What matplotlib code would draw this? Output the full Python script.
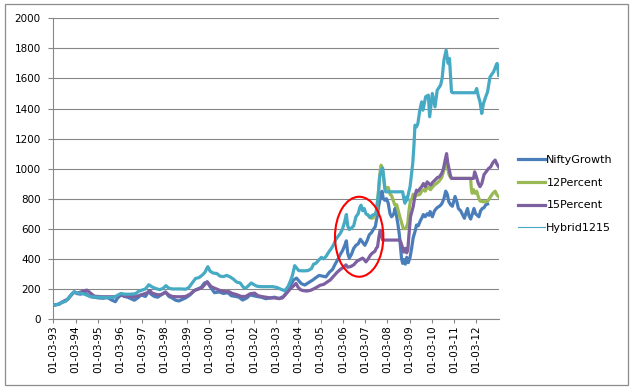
import matplotlib
matplotlib.use("Agg")
import matplotlib.pyplot as plt
from matplotlib.lines import Line2D
from matplotlib.patches import Ellipse, Rectangle

# ---------------- data (decimal years, index values) ----------------
hyb_t = [1993.16, 1993.30, 1993.45, 1993.55, 1993.70, 1993.85, 1994.00, 1994.10, 1994.20, 1994.35,
         1994.50, 1994.65, 1994.80, 1995.00, 1995.30, 1995.60, 1995.90, 1996.05, 1996.20, 1996.35,
         1996.60, 1996.85, 1997.00, 1997.15, 1997.30, 1997.45, 1997.58, 1997.75, 1997.95, 1998.10,
         1998.22, 1998.35, 1998.50, 1998.70, 1998.90, 1999.10, 1999.25, 1999.40, 1999.55, 1999.70,
         1999.85, 1999.97, 2000.05, 2000.10, 2000.20, 2000.35, 2000.50, 2000.65, 2000.80, 2000.95,
         2001.10, 2001.25, 2001.40, 2001.55, 2001.70, 2001.80, 2001.95, 2002.05, 2002.15, 2002.30,
         2002.50, 2002.80, 2003.00, 2003.20, 2003.35, 2003.55, 2003.70, 2003.80, 2003.90, 2004.00,
         2004.08, 2004.18, 2004.40, 2004.60, 2004.75, 2004.85, 2004.95, 2005.10, 2005.20, 2005.30,
         2005.40, 2005.55, 2005.65, 2005.75, 2005.85, 2005.95, 2006.05, 2006.15, 2006.25, 2006.32,
         2006.38, 2006.45, 2006.55, 2006.65, 2006.75, 2006.85, 2006.92, 2006.98, 2007.05, 2007.12,
         2007.20, 2007.30, 2007.38, 2007.48, 2007.58, 2007.65, 2007.70, 2007.75, 2007.82, 2007.90,
         2007.95, 2008.00, 2008.04, 2008.08, 2008.85, 2008.90, 2008.95, 2009.00, 2009.05, 2009.10,
         2009.18, 2009.30, 2009.36, 2009.40, 2009.47, 2009.53, 2009.62, 2009.70, 2009.76, 2009.88,
         2010.00, 2010.06, 2010.18, 2010.30, 2010.40, 2010.55, 2010.62, 2010.70, 2010.80, 2010.89,
         2010.95, 2011.04, 2011.09, 2012.10, 2012.17, 2012.25, 2012.32, 2012.40, 2012.47, 2012.55,
         2012.66, 2012.77, 2012.93, 2013.05, 2013.09, 2013.16]
hyb_v = [93, 95, 100, 112, 116, 140, 168, 182, 172, 172,
         168, 160, 150, 146, 144, 143, 145, 158, 170, 165,
         165, 168, 185, 192, 200, 228, 215, 203, 195, 205,
         222, 205, 200, 200, 200, 198, 210, 240, 270, 275,
         292, 310, 335, 348, 318, 305, 303, 285, 282, 290,
         280, 265, 245, 240, 210, 205, 225, 240, 230, 218,
         215, 215, 215, 210, 200, 188, 215, 250, 290, 355,
         340, 322, 320, 322, 335, 365, 370, 395, 410, 400,
         415, 450, 470, 495, 530, 550, 570, 600, 650, 695,
         620, 595, 605, 620, 680, 700, 740, 757, 720, 735,
         700, 690, 675, 690, 695, 700, 760, 820, 950, 990,
         1005, 940, 870, 846, 846, 800, 770, 810, 790, 830,
         880, 1034, 1167, 1289, 1278, 1300, 1389, 1444, 1389, 1478,
         1489, 1345, 1500, 1411, 1522, 1555, 1600, 1721, 1788, 1700,
         1733, 1511, 1505, 1505, 1533, 1480, 1444, 1367, 1430, 1467,
         1511, 1610, 1644, 1690, 1700, 1621]

nifty_t = [1993.16, 1993.40, 1993.60, 1993.80, 1994.00, 1994.10, 1994.25, 1994.40, 1994.55, 1994.70,
           1994.85, 1995.00, 1995.20, 1995.40, 1995.60, 1995.80, 1995.95, 1996.05, 1996.20, 1996.35,
           1996.50, 1996.65, 1996.80, 1996.95, 1997.10, 1997.30, 1997.45, 1997.55, 1997.70, 1997.85,
           1998.00, 1998.20, 1998.35, 1998.50, 1998.65, 1998.80, 1998.95, 1999.10, 1999.30, 1999.50,
           1999.65, 1999.80, 1999.95, 2000.08, 2000.20, 2000.40, 2000.60, 2000.80, 2001.00, 2001.15,
           2001.35, 2001.50, 2001.66, 2001.85, 2002.00, 2002.15, 2002.30, 2002.50, 2002.70, 2002.90,
           2003.10, 2003.30, 2003.50, 2003.65, 2003.80, 2003.95, 2004.08, 2004.18, 2004.30, 2004.46,
           2004.60, 2004.69, 2004.80, 2004.95, 2005.10, 2005.25, 2005.40, 2005.55, 2005.70, 2005.80,
           2005.95, 2006.05, 2006.15, 2006.25, 2006.32, 2006.38, 2006.45, 2006.55, 2006.65, 2006.75,
           2006.85, 2006.95, 2007.05, 2007.15, 2007.25, 2007.35, 2007.45, 2007.55, 2007.62, 2007.70,
           2007.78, 2007.85, 2007.92, 2007.98, 2008.05, 2008.12, 2008.20, 2008.28, 2008.35, 2008.45,
           2008.51, 2008.58, 2008.64, 2008.70, 2008.75, 2008.80, 2008.85, 2008.90, 2008.97, 2009.03,
           2009.10, 2009.18, 2009.25, 2009.32, 2009.40, 2009.47, 2009.55, 2009.63, 2009.70, 2009.78,
           2009.86, 2009.95, 2010.03, 2010.08, 2010.18, 2010.28, 2010.39, 2010.50, 2010.60, 2010.70,
           2010.78, 2010.85, 2010.92, 2011.00, 2011.08, 2011.20, 2011.28, 2011.35, 2011.45, 2011.55,
           2011.62, 2011.70, 2011.76, 2011.82, 2011.90, 2011.98, 2012.05, 2012.12, 2012.20, 2012.27,
           2012.35, 2012.42, 2012.50, 2012.58, 2012.66]
nifty_v = [92, 98, 115, 130, 165, 180, 168, 165, 178, 160,
           148, 145, 140, 138, 142, 125, 115, 140, 160, 150,
           145, 135, 125, 140, 160, 150, 185, 165, 150, 145,
           160, 180, 150, 140, 125, 120, 130, 140, 160, 190,
           200, 210, 240, 245, 215, 175, 180, 170, 175, 155,
           150, 145, 126, 140, 160, 155, 150, 145, 135, 140,
           145, 135, 150, 180, 220, 260, 272, 255, 235, 226,
           240, 248, 258, 275, 290, 285, 280, 310, 330, 360,
           400, 430, 455, 490, 520, 440, 405, 430, 470, 490,
           500, 530, 510, 490, 520, 560, 575, 600, 615, 680,
           760, 810, 850, 800, 790, 800, 770, 700, 680, 700,
           736, 680, 625, 560, 480, 400, 370, 395, 365, 410,
           375, 410, 470, 540, 580, 625, 620, 650, 670, 695,
           680, 700, 690, 715, 680, 720, 740, 750, 765, 800,
           850, 830, 780, 760, 750, 815, 780, 735, 720, 690,
           670, 710, 735, 690, 665, 700, 735, 700, 690, 680,
           720, 735, 740, 760, 765]

p15_t = [1993.16, 1993.40, 1993.60, 1993.80, 1994.00, 1994.10, 1994.25, 1994.40, 1994.55, 1994.67,
         1994.85, 1995.00, 1995.30, 1995.60, 1995.90, 1996.05, 1996.20, 1996.40, 1996.60, 1996.80,
         1997.00, 1997.20, 1997.40, 1997.50, 1997.60, 1997.75, 1997.90, 1998.05, 1998.20, 1998.35,
         1998.50, 1998.70, 1998.90, 1999.10, 1999.30, 1999.50, 1999.70, 1999.85, 1999.97, 2000.07,
         2000.25, 2000.42, 2000.65, 2000.87, 2001.05, 2001.20, 2001.40, 2001.60, 2001.80, 2002.00,
         2002.20, 2002.35, 2002.50, 2002.70, 2002.90, 2003.10, 2003.30, 2003.45, 2003.60, 2003.80,
         2003.95, 2004.06, 2004.15, 2004.25, 2004.40, 2004.55, 2004.70, 2004.85, 2005.00, 2005.15,
         2005.30, 2005.45, 2005.60, 2005.75, 2005.90, 2006.05, 2006.20, 2006.30, 2006.38, 2006.50,
         2006.65, 2006.80, 2006.93, 2007.05, 2007.12, 2007.20, 2007.30, 2007.40, 2007.50, 2007.60,
         2007.66, 2007.72, 2007.78, 2007.84, 2007.90, 2007.95, 2008.72, 2008.78, 2008.85, 2008.90,
         2008.97, 2009.03, 2009.08, 2009.13, 2009.20, 2009.27, 2009.32, 2009.40, 2009.47, 2009.55,
         2009.63, 2009.70, 2009.78, 2009.86, 2009.95, 2010.03, 2010.10, 2010.20, 2010.30, 2010.40,
         2010.50, 2010.60, 2010.68, 2010.76, 2010.82, 2010.87, 2010.93, 2011.00, 2011.05, 2012.03,
         2012.08, 2012.15, 2012.25, 2012.32, 2012.40, 2012.50, 2012.60, 2012.70, 2012.80, 2012.90,
         2013.00, 2013.08, 2013.16]
p15_v = [92, 98, 115, 130, 165, 178, 172, 180, 188, 192,
         170, 152, 148, 148, 148, 150, 160, 152, 150, 148,
         155, 165, 175, 190, 172, 165, 160, 165, 178, 160,
         150, 148, 148, 150, 165, 190, 200, 210, 230, 248,
         215, 204, 190, 182, 182, 170, 162, 150, 150, 168,
         172, 155, 150, 145, 140, 140, 137, 140, 165, 200,
         220, 237, 212, 195, 188, 186, 190, 200, 212, 225,
         230, 245, 260, 285, 310, 330, 345, 360, 345, 348,
         360, 385, 395, 405, 395, 380, 400, 425, 440, 450,
         470, 480, 545, 590, 560, 525, 525, 505, 470, 445,
         470, 440, 460, 560, 680, 720, 747, 820, 857, 850,
         868, 880, 901, 880, 912, 900, 890, 910, 924, 940,
         946, 968, 1000, 1060, 1100, 1040, 1000, 950, 935, 935,
         979, 950, 900, 880, 900, 960, 980, 1000, 1012, 1040,
         1057, 1030, 1012]

p12_t = [2007.30, 2007.38, 2007.45, 2007.52, 2007.60, 2007.68, 2007.75, 2007.82, 2007.88, 2007.93,
         2007.98, 2008.05, 2008.12, 2008.20, 2008.28, 2008.35, 2008.42, 2008.50, 2008.58, 2008.65,
         2008.72, 2008.80, 2008.87, 2008.95, 2009.02, 2009.08, 2009.13, 2009.20, 2009.27, 2009.32,
         2009.40, 2009.47, 2009.55, 2009.63, 2009.70, 2009.78, 2009.86, 2009.95, 2010.03, 2010.10,
         2010.20, 2010.30, 2010.40, 2010.50, 2010.60, 2010.68, 2010.76, 2010.82, 2010.87, 2010.93,
         2011.00, 2011.05, 2011.90, 2011.93, 2011.97, 2012.03, 2012.10, 2012.17, 2012.25, 2012.32,
         2012.45, 2012.60, 2012.70, 2012.80, 2012.90, 2013.00, 2013.08, 2013.16]
p12_v = [690, 675, 670, 672, 690, 720, 830, 960, 1023, 1000,
         950, 880, 870, 875, 830, 820, 790, 757, 760, 720,
         680, 640, 605, 600, 610, 640, 720, 790, 800, 830,
         810, 830, 825, 830, 850, 860, 850, 880, 870, 860,
         880, 895, 905, 920, 940, 980, 1030, 1065, 1000, 960,
         940, 935, 935, 870, 836, 860, 836, 850, 810, 785,
         780, 780, 790, 815, 836, 850, 825, 813]

tick_labels = ["01-03-93", "01-03-94", "01-03-95", "01-03-96", "01-03-97", "01-03-98", "01-03-99",
               "01-03-00", "01-03-01", "01-03-02", "01-03-03", "01-03-04", "01-03-05", "01-03-06",
               "01-03-07", "01-03-08", "01-03-09", "01-03-10", "01-03-11", "01-03-12"]
tick_start = 1993.162
series_names = ["NiftyGrowth", "12Percent", "15Percent", "Hybrid1215"]

# ---------------- styling ----------------
c_blue, c_green, c_purple, c_teal = "#4A7EBB", "#98B954", "#7D60A0", "#46AAC5"
grid_c = "#878787"

fig = plt.figure(figsize=(6.35, 3.90), dpi=100)
fig.patch.set_facecolor("white")
fig.patches.append(Rectangle((5 / 635, 1 - 385 / 390), 623 / 635, 381 / 390,
                             transform=fig.transFigure, fill=False,
                             edgecolor="#8C8C8C", linewidth=0.9))

ax = fig.add_axes([53.3 / 635, 1 - 319 / 390, (498.7 - 53.3) / 635, (319 - 18.3) / 390])

lw = 2.3
ax.plot(nifty_t, nifty_v, color=c_blue, lw=lw, solid_joinstyle="round", zorder=3)
ax.plot(p12_t, p12_v, color=c_green, lw=lw, solid_joinstyle="round", zorder=4)
ax.plot(p15_t, p15_v, color=c_purple, lw=lw, solid_joinstyle="round", zorder=5)
ax.plot(hyb_t, hyb_v, color=c_teal, lw=lw, solid_joinstyle="round", zorder=6)

ax.add_patch(Ellipse((2006.895, 547), 2.17, 532, fill=False, edgecolor="#FF0000",
                     linewidth=1.5, zorder=7))

ax.set_xlim(1993.162, 2013.16)
ax.set_ylim(0, 2000)
ax.set_yticks(range(0, 2001, 200))
ax.set_xticks([tick_start + k for k in range(len(tick_labels))])
ax.set_xticklabels(tick_labels, rotation=90)
ax.yaxis.grid(True, color=grid_c, linewidth=0.8)
ax.set_axisbelow(True)
for s in ("top", "right"):
    ax.spines[s].set_visible(False)
for s in ("left", "bottom"):
    ax.spines[s].set_color(grid_c)
    ax.spines[s].set_linewidth(0.8)
ax.tick_params(axis="y", direction="out", length=3.6, width=0.8, color=grid_c,
               labelsize=7.5, pad=5.5, labelcolor="#000000")
ax.tick_params(axis="x", direction="out", length=3.0, width=0.8, color=grid_c,
               labelsize=7.6, pad=1.5, labelcolor="#000000")

handles = [Line2D([], [], color=c_blue, lw=2.3),
           Line2D([], [], color=c_green, lw=2.3),
           Line2D([], [], color=c_purple, lw=2.3),
           Line2D([], [], color=c_teal, lw=0.8)]
ax.legend(handles, series_names, loc="center left", bbox_to_anchor=(518 / 635, 1 - 194 / 390),
          bbox_transform=fig.transFigure, frameon=False, fontsize=8, handlelength=2.4,
          handletextpad=0.15, labelspacing=1.15, borderpad=0, borderaxespad=0)

fig.savefig("out.png", dpi=100, facecolor="white")
